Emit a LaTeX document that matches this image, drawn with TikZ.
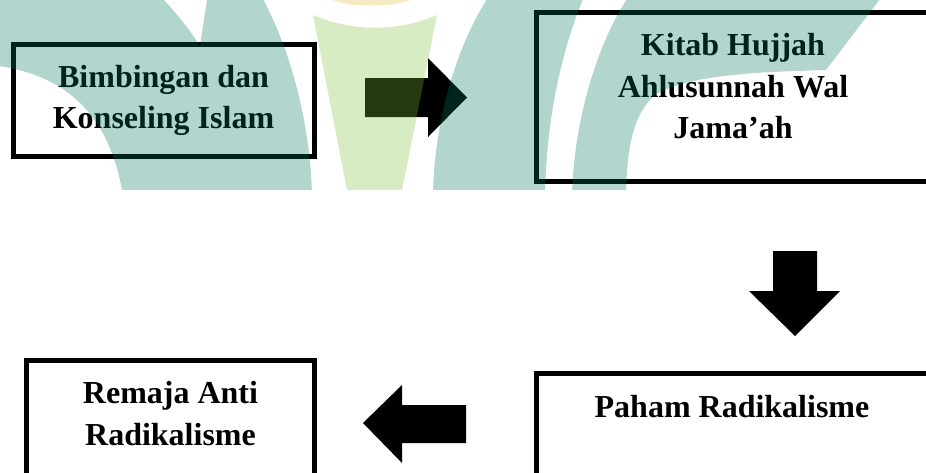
\documentclass[tikz,border=0pt]{standalone}
\usepackage{fontspec}
\setmainfont{Liberation Serif}
\definecolor{wmteal}{RGB}{0,117,94}
\definecolor{wmgreen}{RGB}{127,193,60}
\definecolor{wmyellow}{RGB}{228,188,58}
\begin{document}
\begin{tikzpicture}[x=1pt,y=-1pt,
  frame/.style={draw=black, line width=5pt, inner sep=0pt},
  lbl/.style={font=\bfseries\fontsize{32pt}{41.5pt}\selectfont, inner sep=0pt, anchor=base},
  blockarrow/.style={fill=black},
  tealwm/.style={fill=wmteal, fill opacity=0.3},
  greenwm/.style={fill=wmgreen, fill opacity=0.3},
  yellowwm/.style={fill=wmyellow, fill opacity=0.3}]
\useasboundingbox (0,0) rectangle (926,472);
\clip (0,0) rectangle (926,472);
\fill[white] (0,0) rectangle (926,472);

% boxes
\node[frame, minimum width=301.3pt, minimum height=111.7pt] (b1) at (163.85,100.65) {};
\node[frame, minimum width=392.3pt, minimum height=169.3pt] (b2) at (732.85,97.15) {};
\node[frame, minimum width=392.3pt, minimum height=160pt] (b3) at (732.85,453.5) {};
\node[frame, minimum width=287.7pt, minimum height=170pt] (b4) at (170.35,445.8) {};

% texts
\node[lbl] (t1a) at (163.5,87) {Bimbingan dan};
\node[lbl] (t1b) at (163.5,128) {Konseling Islam};
\node[lbl] (t2a) at (733,55) {Kitab Hujjah};
\node[lbl] (t2b) at (733,97) {Ahlusunnah Wal};
\node[lbl] (t2c) at (733,138) {Jama’ah};
\node[lbl] (t3) at (732,417) {Paham Radikalisme};
\node[lbl] (t4a) at (170.5,403) {Remaja Anti};
\node[lbl] (t4b) at (170.5,445) {Radikalisme};

% block arrows
\fill[blockarrow] (365,78) -- (428,78) -- (428,58) -- (467,97.5) -- (428,137) -- (428,117) -- (365,117) -- cycle;
\fill[blockarrow] (773,251) -- (817,251) -- (817,291) -- (840,291) -- (795,336) -- (749,291) -- (773,291) -- cycle;
\fill[blockarrow] (466,405) -- (402,405) -- (402,385) -- (363,423) -- (402,463) -- (402,443) -- (466,443) -- cycle;

% watermark
\begin{scope}
\clip (0,0) rectangle (926,189);
\fill[tealwm] (-1,-1) -- (163,-1) .. controls (178,15) and (192,32) .. (200,47)
  .. controls (202,30) and (205,15) .. (207,-1) -- (263,-1)
  .. controls (290,50) and (310,120) .. (312,195) -- (123,195)
  .. controls (112,130) and (80,78) .. (-1,66) -- cycle;
\fill[greenwm] (313,15) .. controls (353,32) and (397,32) .. (437,15) -- (401,195) -- (348,195) -- cycle;
\fill[yellowwm] (330,-1) .. controls (350,8) and (393,8) .. (413,-1) -- cycle;
\fill[tealwm] (487,-1) -- (583,-1) .. controls (558,60) and (546,130) .. (545,195) -- (433,195)
  .. controls (434,130) and (452,55) .. (487,-1) -- cycle;
\fill[tealwm] (627,-1) -- (880,-1) -- (826,70) .. controls (760,72) and (690,74) .. (655,95)
  .. controls (632,115) and (627,150) .. (626,195) -- (572,195)
  .. controls (574,120) and (597,45) .. (627,-1) -- cycle;
\end{scope}
\end{tikzpicture}
\end{document}
